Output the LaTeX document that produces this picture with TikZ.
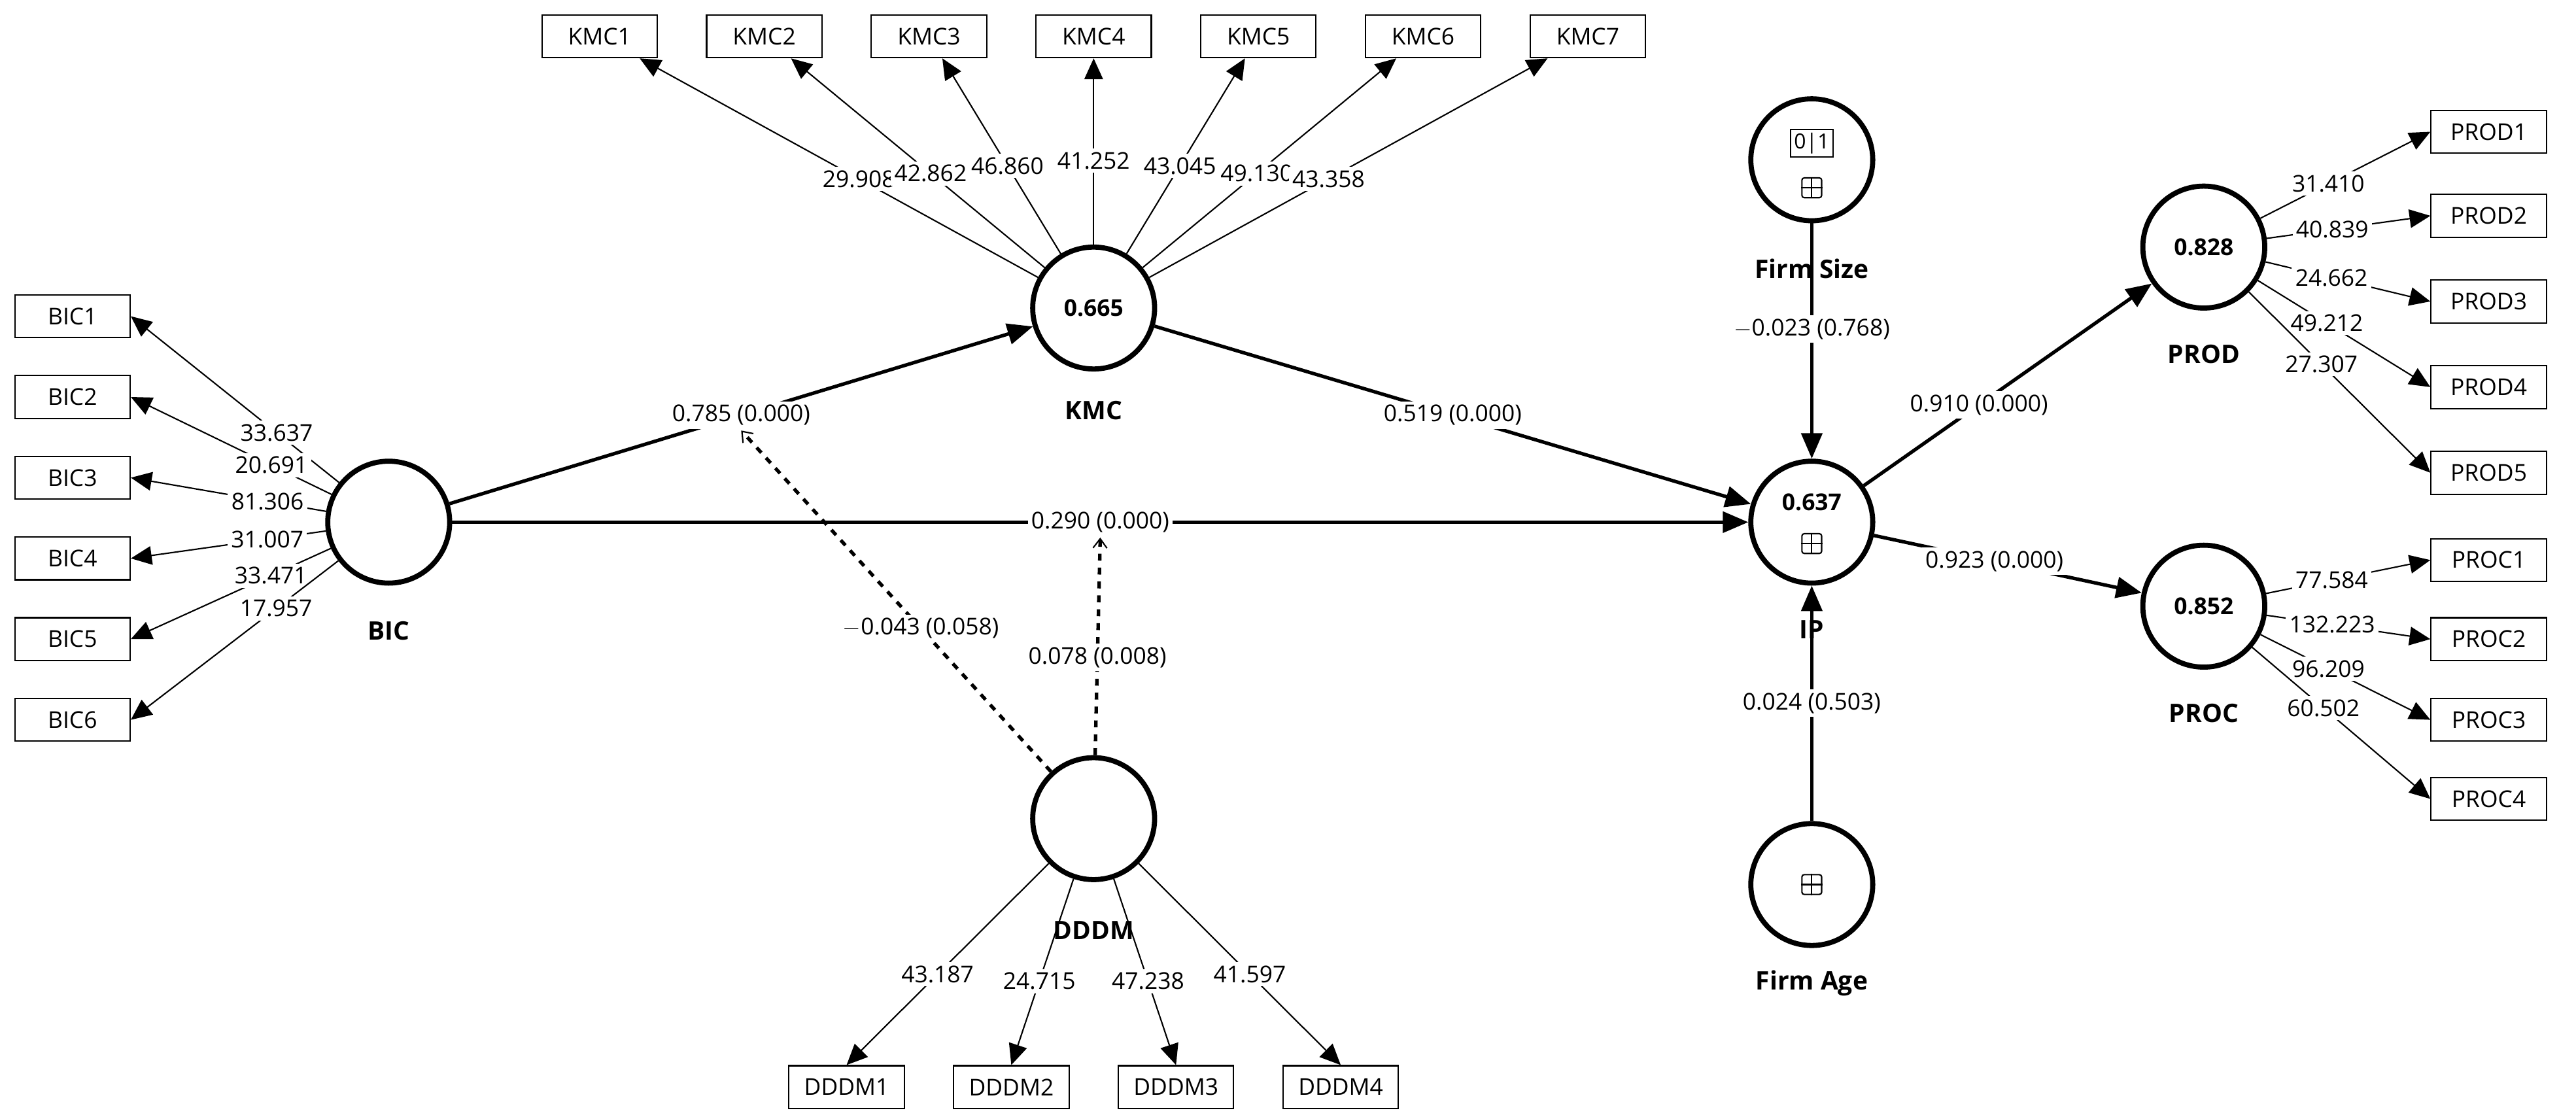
\documentclass[tikz,border=0pt]{standalone}
\usepackage{fontspec}
\setmainfont{Open Sans}
\usetikzlibrary{arrows.meta}
\begin{document}
\begin{tikzpicture}[x=0.025cm,y=-0.025cm,
  lv/.style={circle,draw,line width=2.2pt,minimum size=1.85cm,inner sep=0pt,font=\bfseries\fontsize{10}{12}\selectfont},
  ind/.style={draw,line width=0.6pt,minimum width=1.75cm,minimum height=0.65cm,inner sep=1pt,font=\fontsize{10}{12}\selectfont},
  ld/.style={line width=0.6pt,-{Triangle[length=9pt,width=8pt]}},
  st/.style={line width=1.5pt,-{Triangle[length=11pt,width=9pt]}},
  dsh/.style={line width=1.5pt,dash pattern=on 3pt off 3pt,-{Straight Barb[length=4pt,width=6pt,line width=0.6pt]}},
  val/.style={fill=white,inner sep=1.5pt,font=\fontsize{10}{12}\selectfont},
  nm/.style={font=\bfseries\fontsize{11}{13}\selectfont},
  pl/.style={draw,line width=0.6pt,rounded corners=1pt,minimum size=0.3cm,inner sep=0pt}]
\useasboundingbox (0,0) rectangle (1564,679);
% constructs
\node[lv] (BIC) at (236,317) {};
\node[lv] (KMC) at (664,187) {0.665};
\node[lv] (DDDM) at (664,497) {};
\node[lv] (IP) at (1100,317) {};
\node[lv] (FS) at (1100,97) {};
\node[lv] (FA) at (1100,537) {};
\node[lv] (PROD) at (1338,150) {0.828};
\node[lv] (PROC) at (1338,368) {0.852};
\node[font=\bfseries\fontsize{10}{12}\selectfont] (ipv) at (1100,305) {0.637};
\node[pl] (ipp) at (1100,330) {};
\draw[line width=0.6pt] (ipp.north)--(ipp.south) (ipp.west)--(ipp.east);
\node[draw,line width=0.6pt,inner sep=1.5pt,font=\fontsize{9}{11}\selectfont] (fsb) at (1100,87) {0|1};
\node[pl] (fsp) at (1100,114) {};
\draw[line width=0.6pt] (fsp.north)--(fsp.south) (fsp.west)--(fsp.east);
\node[pl] (fap) at (1100,537) {};
\draw[line width=0.6pt] (fap.north)--(fap.south) (fap.west)--(fap.east);
% construct names
\node[nm] (nBIC) at (236,383) {BIC};
\node[nm] (nKMC) at (664,249) {KMC};
\node[nm] (nDDDM) at (664,565) {DDDM};
\node[nm] (nFS) at (1100,163) {Firm Size};
\node[nm] (nFA) at (1100,597) {Firm Age};
\node[nm] (nPROD) at (1338,215) {PROD};
\node[nm] (nPROC) at (1338,433) {PROC};
\node[nm] (nIP) at (1100,382) {IP};
% indicators
\foreach \i/\x in {1/364,2/464,3/564,4/664,5/764,6/864,7/964}
  \node[ind] (KMC\i) at (\x,22) {KMC\i};
\foreach \i/\y in {1/192,2/241,3/290,4/339,5/388,6/437}
  \node[ind] (BIC\i) at (44,\y) {BIC\i};
\foreach \i/\x in {1/514,2/614,3/714,4/814}
  \node[ind] (DDDM\i) at (\x,660) {DDDM\i};
\foreach \i/\y in {1/80,2/131,3/183,4/235,5/287}
  \node[ind] (PROD\i) at (1511,\y) {PROD\i};
\foreach \i/\y in {1/340,2/388,3/437,4/485}
  \node[ind] (PROC\i) at (1511,\y) {PROC\i};
% loadings
\foreach \i/\v/\lx in {1/29.908/465,2/42.862/530,3/46.860/597,4/41.252/664,5/43.045/730,6/49.130/797,7/43.358/862}
  \draw[ld] (KMC) -- (KMC\i) node[val,pos=0.45] (lk\i) {\v};
\foreach \i/\v in {1/33.637,2/20.691,3/81.306,4/31.007,5/33.471,6/17.957}
  \draw[ld] (BIC) -- (BIC\i.east) node[val,pos=0.3] (lb\i) {\v};
\foreach \i/\v in {1/43.187,2/24.715,3/47.238,4/41.597}
  \draw[ld] (DDDM) -- (DDDM\i.north) node[val,pos=0.55] (ld\i) {\v};
\foreach \i/\v in {1/31.410,2/40.839,3/24.662,4/49.212,5/27.307}
  \draw[ld] (PROD) -- (PROD\i.west) node[val,pos=0.4] (lp\i) {\v};
\foreach \i/\v in {1/77.584,2/132.223,3/96.209,4/60.502}
  \draw[ld] (PROC) -- (PROC\i.west) node[val,pos=0.4] (lc\i) {\v};
% structural paths
\draw[st] (BIC) -- (KMC) node[val,pos=0.5] (p1) {0.785 (0.000)};
\draw[st] (KMC) -- (IP) node[val,pos=0.5] (p2) {0.519 (0.000)};
\draw[st] (BIC) -- (IP) node[val,pos=0.5] (p3) {0.290 (0.000)};
\draw[st] (FS) -- (IP) node[val,pos=0.45] (p4) {$-$0.023 (0.768)};
\draw[st] (FA) -- (IP) node[val,pos=0.5] (p5) {0.024 (0.503)};
\draw[st] (IP) -- (PROD) node[val,pos=0.4] (p6) {0.910 (0.000)};
\draw[st] (IP) -- (PROC) node[val,pos=0.45] (p7) {0.923 (0.000)};
% moderation (dashed)
\draw[dsh] (DDDM) -- (p1.south) node[val,pos=0.42] (m1) {$-$0.043 (0.058)};
\draw[dsh] (DDDM) -- (p3.south) node[val,pos=0.45] (m2) {0.078 (0.008)};
\end{tikzpicture}
\end{document}
